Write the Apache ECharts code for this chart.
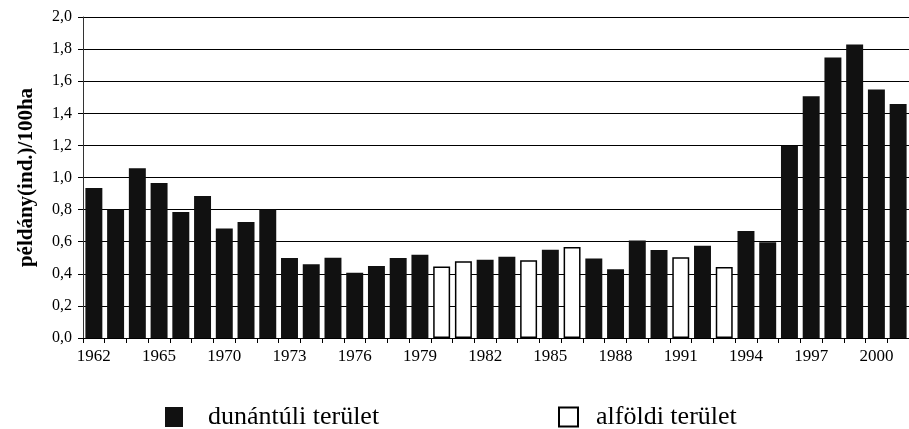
<!DOCTYPE html>
<html><head><meta charset="utf-8">
<script src="https://cdn.jsdelivr.net/npm/echarts@6/dist/echarts.min.js"></script>
<style>html,body{margin:0;padding:0;background:#fff}#c{width:909px;height:429px}</style>
</head><body><div id="c"></div>
<script>
const years = ['1962','1963','1964','1965','1966','1968','1970','1971','1972','1973','1974','1975','1976','1977','1978','1979','1980','1981','1982','1983','1984','1985','1986','1987','1988','1989','1990','1991','1992','1993','1994','1995','1996','1997','1998','1999','2000','2001'];
const dunantuli = [0.935,0.80,1.057,0.966,0.785,0.885,0.683,0.723,0.80,0.498,0.459,0.50,0.407,0.449,0.498,0.519,null,null,0.488,0.507,null,0.55,null,0.496,0.428,0.608,0.548,null,0.575,null,0.667,0.596,1.198,1.506,1.747,1.828,1.549,1.458];
const alfoldi = [null,null,null,null,null,null,null,null,null,null,null,null,null,null,null,null,0.446,0.478,null,null,0.484,null,0.567,null,null,null,null,0.503,null,0.442,null,null,null,null,null,null,null,null];
const yTicks = [0,0.2,0.4,0.6,0.8,1.0,1.2,1.4,1.6,1.8,2.0];
const seriesNames = ['dunántúli terület','alföldi terület'];
const yTitle = 'példány(ind.)/100ha';

const serif = '"Liberation Serif","DejaVu Serif",serif';
const chart = echarts.init(document.getElementById('c'));
chart.setOption({
  backgroundColor:'#fff',
  animation:false,
  grid:{left:83,top:17,width:830,height:321,containLabel:false},
  legend:[
    {data:[{name:seriesNames[0]}],left:160,top:399,itemWidth:18,itemHeight:20,icon:'rect',
     textStyle:{fontFamily:serif,fontSize:26,color:'#000',padding:[0,0,0,20]}},
    {data:[{name:seriesNames[1]}],left:553,top:399,itemWidth:19,itemHeight:19,icon:'rect',
     textStyle:{fontFamily:serif,fontSize:26,color:'#000',padding:[0,0,0,13]}}
  ],
  xAxis:{type:'category',data:years,boundaryGap:true,
    axisLine:{lineStyle:{color:'#000',width:1}},
    axisTick:{show:true,interval:0,length:5,lineStyle:{color:'#000'}},
    axisLabel:{interval:2,margin:10,fontFamily:serif,fontSize:17,color:'#000'}},
  yAxis:{type:'value',min:0,max:2,interval:0.2,
    name:yTitle,nameLocation:'middle',nameGap:46,nameRotate:90,
    nameTextStyle:{fontFamily:serif,fontSize:21,fontWeight:'bold',color:'#000'},
    axisLine:{show:true,lineStyle:{color:'#333'}},
    axisTick:{show:true,length:5,lineStyle:{color:'#000'}},
    splitLine:{lineStyle:{color:'#000',width:1}},
    axisLabel:{margin:11,fontFamily:serif,fontSize:16,color:'#000',
      formatter:v=>v.toFixed(1).replace('.',',')}},
  series:[
    {name:seriesNames[0],type:'bar',data:dunantuli,barWidth:'78%',barGap:'-100%',
     itemStyle:{color:'#111',borderColor:'#000',borderWidth:0}},
    {name:seriesNames[1],type:'bar',data:alfoldi,barWidth:'78%',barGap:'-100%',
     itemStyle:{color:'#fff',borderColor:'#000',borderWidth:1.5}}
  ]
});
</script></body></html>
